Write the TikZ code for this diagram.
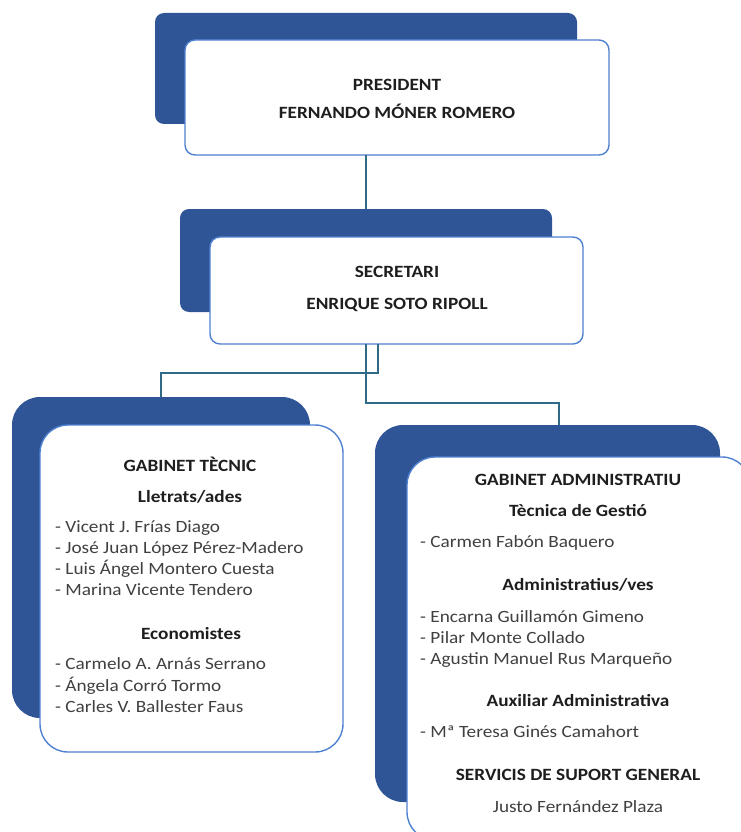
\documentclass[tikz,border=0pt]{standalone}
\usepackage{fontspec}
\setmainfont{Carlito}[FakeStretch=1.12]
\usepackage{tikz}
\definecolor{boxblue}{RGB}{47,85,151}
\definecolor{edgeblue}{RGB}{79,129,209}
\definecolor{linkteal}{RGB}{47,106,134}
\definecolor{inkgray}{RGB}{30,30,30}

\begin{document}
\begin{tikzpicture}[x=1pt,y=-1pt]
    \tikzset{
        darkbox/.style={
            fill=boxblue,
            inner sep=0pt,
            outer sep=0pt
        },
        whitebox/.style={
            fill=white,
            draw=edgeblue,
            line width=1.4pt,
            inner sep=0pt,
            outer sep=0pt
        },
        headtext/.style={font=\fontsize{17.2}{21.3}\selectfont\bfseries, text=inkgray, inner sep=0pt, anchor=base},
        nametext/.style={font=\fontsize{17.2}{21.3}\selectfont, text=inkgray!85!white, inner sep=0pt, anchor=base west},
        link/.style={draw=linkteal, line width=1.4pt}
    }
    \useasboundingbox (0,0) rectangle (741,832);
    \clip (0,0) rectangle (741,832);

    % President
    \node[darkbox,rounded corners=9pt,minimum width=422pt,minimum height=111pt] (presD) at (366,68.5) {};
    \node[whitebox,rounded corners=10pt,minimum width=424pt,minimum height=115pt] (presW) at (397,97.5) {};
    \node[headtext] (presT) at (397,91) {PRESIDENT};
    \node[headtext] (presN) at (397,118) {FERNANDO MÓNER ROMERO};

    % Secretari
    \node[darkbox,rounded corners=9pt,minimum width=372pt,minimum height=103pt] (secD) at (366,260.5) {};
    \node[whitebox,rounded corners=10pt,minimum width=373pt,minimum height=107pt] (secW) at (396.5,290.5) {};
    \node[headtext] (secT) at (397,277.5) {SECRETARI};
    \node[headtext] (secN) at (397,309.5) {ENRIQUE SOTO RIPOLL};

    % Gabinet tecnic
    \node[darkbox,rounded corners=28pt,minimum width=298pt,minimum height=321pt] (tecD) at (161,557.5) {};
    \node[whitebox,rounded corners=28pt,minimum width=303pt,minimum height=327pt] (tecW) at (191.5,588.5) {};
    \node[headtext] (tecT) at (190,471.5) {GABINET TÈCNIC};
    \node[headtext] (tecL) at (190,502.5) {Lletrats/ades};
    \foreach \who [count=\i] in {Vicent J. Frías Diago, José Juan López Pérez-Madero,
            Luis Ángel Montero Cuesta, Marina Vicente Tendero}
        \node[nametext] (tecL\i) at (55,{532+21.3*(\i-1)}) {- \who};
    \node[headtext] (tecE) at (191,639.5) {Economistes};
    \foreach \who [count=\i] in {Carmelo A. Arnás Serrano, Ángela Corró Tormo,
            Carles V. Ballester Faus}
        \node[nametext] (tecE\i) at (55,{669.5+21.5*(\i-1)}) {- \who};

    % Gabinet administratiu
    \node[darkbox,rounded corners=28pt,minimum width=345pt,minimum height=377pt] (admD) at (547.5,613.5) {};
    \node[whitebox,rounded corners=28pt,minimum width=343pt,minimum height=383pt] (admW) at (578.5,648.5) {};
    \node[headtext] (admT) at (578,485.5) {GABINET ADMINISTRATIU};
    \node[headtext] (admG) at (578,516.5) {Tècnica de Gestió};
    \node[nametext] (admG1) at (420,547.5) {- Carmen Fabón Baquero};
    \node[headtext] (admA) at (578,590.5) {Administratius/ves};
    \foreach \who [count=\i] in {Encarna Guillamón Gimeno, Pilar Monte Collado,
            Agustin Manuel Rus Marqueño}
        \node[nametext] (admA\i) at (420,{622.5+21*(\i-1)}) {- \who};
    \node[headtext] (admX) at (578,706.5) {Auxiliar Administrativa};
    \node[nametext] (admX1) at (420,737.5) {- Mª Teresa Ginés Camahort};
    \node[headtext] (admS) at (578,780.5) {SERVICIS DE SUPORT GENERAL};
    \node[headtext,font=\fontsize{17.2}{21.3}\selectfont,text=inkgray!85!white] (admS1) at (578,812.5) {Justo Fernández Plaza};

    % Connexions
    \coordinate (jL) at (378,373);
    \coordinate (jR) at (559,403);
    \draw[link] (presD.center |- presW.south) -- (secD.north);
    \draw[link] (jL |- secW.south) -- (jL) -| (tecD.north);
    \draw[link] (secD.center |- secW.south) |- (jR) -- (jR |- admD.north);
\end{tikzpicture}
\end{document}
